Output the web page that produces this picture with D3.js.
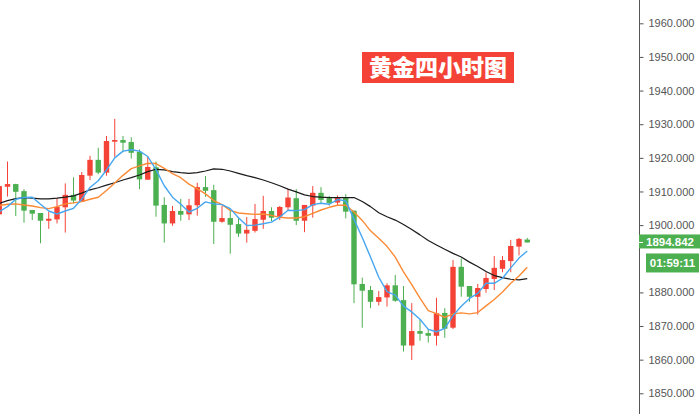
<!DOCTYPE html>
<html><head><meta charset="utf-8">
<script src="https://cdn.jsdelivr.net/npm/d3@7/dist/d3.min.js"></script>
<style>html,body{margin:0;padding:0;background:#fff;}svg{display:block;}</style>
</head><body>
<script>
// ---- data ----
const opens  = [1903.2,1911.4,1912.2,1910.1,1904.5,1903.6,1901.3,1901.7,1905.3,1909.0,1907.0,1914.7,1919.4,1915.6,1924.8,1925.3,1924.7,1921.8,1913.5,1917.2,1906.0,1900.5,1904.2,1903.2,1905.9,1911.3,1910.4,1901.0,1902.1,1900.3,1897.5,1898.3,1901.6,1904.2,1902.5,1905.3,1908.0,1901.3,1905.8,1909.6,1908.0,1906.7,1908.2,1904.3,1882.5,1880.7,1877.2,1878.5,1882.1,1877.7,1864.2,1868.5,1867.9,1867.1,1873.9,1869.5,1887.6,1881.9,1878.7,1881.0,1884.0,1887.0,1889.3,1893.6,1895.7];
const highs  = [1912.5,1918.9,1912.3,1910.7,1904.5,1903.6,1904.0,1908.0,1912.4,1914.2,1915.8,1920.6,1923.0,1926.5,1931.6,1926.5,1926.1,1922.5,1920.3,1918.9,1908.3,1905.7,1907.8,1907.8,1912.6,1914.6,1912.0,1905.7,1904.2,1902.0,1902.4,1906.3,1908.7,1905.3,1905.7,1910.7,1910.7,1906.0,1911.6,1911.3,1908.7,1908.8,1909.2,1904.3,1884.4,1881.9,1880.4,1882.7,1885.2,1881.9,1876.8,1872.0,1869.2,1878.4,1875.3,1889.6,1890.1,1881.9,1882.5,1885.9,1890.8,1890.8,1895.6,1896.2,1896.2];
const lows   = [1902.5,1908.5,1902.7,1900.7,1901.5,1894.6,1898.9,1900.5,1897.8,1906.5,1907.0,1913.4,1915.1,1914.7,1920.3,1921.7,1919.8,1910.7,1913.5,1902.5,1894.8,1899.8,1901.3,1901.5,1902.8,1908.4,1894.4,1900.7,1891.5,1896.5,1894.8,1897.8,1898.9,1901.2,1901.5,1904.5,1900.0,1897.9,1902.2,1906.5,1905.8,1906.0,1902.0,1876.8,1869.5,1875.3,1876.1,1875.8,1877.2,1862.4,1859.9,1865.6,1865.1,1864.2,1866.5,1869.1,1878.7,1877.2,1873.4,1879.9,1880.7,1886.0,1886.0,1891.0,1894.842];
const closes = [1911.6,1912.2,1909.9,1904.3,1903.4,1901.3,1901.9,1905.4,1909.0,1907.3,1914.9,1919.4,1915.6,1925.0,1925.3,1924.5,1921.5,1913.6,1917.3,1905.8,1900.5,1904.2,1903.1,1905.9,1911.3,1910.2,1901.0,1902.1,1900.1,1897.5,1898.6,1901.8,1904.2,1902.2,1905.4,1908.2,1901.3,1906.0,1909.6,1907.5,1906.6,1908.2,1904.0,1882.4,1880.5,1877.2,1878.6,1882.1,1877.5,1864.2,1868.5,1867.7,1867.1,1873.8,1869.2,1887.6,1881.7,1878.7,1881.3,1884.3,1887.3,1889.6,1893.8,1895.9,1894.842];
// moving-average lines
const maBlue   = [1904.0,1905.5,1907.7,1908.2,1908.3,1906.2,1904.2,1903.3,1904.2,1905.0,1907.7,1911.2,1913.2,1916.4,1920.0,1922.0,1922.4,1922.0,1920.4,1916.5,1911.7,1908.3,1906.2,1903.9,1905.0,1906.9,1906.3,1906.1,1904.9,1902.2,1899.9,1900.0,1900.4,1900.9,1902.4,1904.4,1904.3,1904.6,1906.1,1906.5,1906.2,1907.6,1907.2,1901.7,1896.3,1890.5,1884.5,1880.2,1879.2,1875.9,1874.2,1872.0,1869.0,1868.3,1869.3,1873.1,1875.9,1878.2,1879.7,1882.7,1882.7,1884.2,1887.3,1890.2,1892.3];
const maOrange = [1905.8,1906.2,1906.3,1906.0,1905.7,1905.2,1904.9,1905.5,1906.3,1906.6,1907.0,1907.7,1908.3,1910.3,1912.5,1914.8,1916.8,1917.6,1918.4,1918.3,1916.9,1915.3,1914.1,1912.2,1910.8,1909.3,1907.3,1906.1,1904.4,1903.6,1903.4,1903.2,1903.3,1902.9,1902.3,1902.1,1902.1,1902.5,1903.5,1904.5,1905.3,1905.9,1905.9,1903.9,1901.4,1898.3,1896.1,1893.7,1890.5,1886.1,1882.3,1878.3,1874.6,1873.7,1872.6,1873.6,1873.9,1873.6,1874.0,1876.0,1877.9,1880.1,1882.7,1884.9,1887.5];
const maBlack  = [1906.5,1907.3,1907.9,1908.2,1908.0,1907.8,1907.8,1908.0,1908.3,1908.7,1909.5,1910.5,1911.1,1911.9,1912.6,1913.4,1914.1,1914.9,1915.9,1916.6,1916.4,1915.9,1915.6,1915.4,1915.6,1916.1,1916.7,1916.6,1916.1,1915.4,1914.7,1914.1,1913.4,1912.6,1911.7,1910.7,1909.9,1909.0,1908.5,1908.3,1908.2,1908.2,1908.2,1908.2,1907.0,1905.5,1903.7,1902.5,1901.5,1900.2,1898.7,1897.1,1895.4,1894.1,1892.8,1891.6,1890.5,1889.0,1887.7,1886.2,1885.0,1884.4,1883.9,1883.7,1884.1];
// 1890 is hidden behind the price / countdown labels in the reference
const tickValues = [1850,1860,1870,1880,1900,1910,1920,1930,1940,1950,1960];
const title = "黄金四小时图";
const lastPrice = "1894.842";
const countdown = "01:59:11";

// ---- drawing ----
const W = 700, H = 414, axisX = 639;
const RED = "#f44336", GREEN = "#4caf50";
const svg = d3.select("body").append("svg").attr("width", W).attr("height", H);

const x = d3.scaleLinear().domain([0, closes.length - 1]).range([-0.75, 527.25]);
const y = d3.scaleLinear().domain([1850, 1960]).range([393.3, 23.3]);

svg.append("defs").append("clipPath").attr("id", "plot")
  .append("rect").attr("x", 0).attr("y", 0).attr("width", axisX).attr("height", H);

const plot = svg.append("g").attr("clip-path", "url(#plot)");
const candles = closes.map((c, i) => ({i, o: opens[i], h: highs[i], l: lows[i], c}));
const g = plot.selectAll("g.candle").data(candles).join("g").attr("class", "candle");
const col = d => d.c >= d.o ? RED : GREEN;
g.append("line")
  .attr("x1", d => x(d.i)).attr("x2", d => x(d.i))
  .attr("y1", d => y(d.h)).attr("y2", d => y(d.l))
  .attr("stroke", col).attr("stroke-width", 1);
const bw = 5.4;
g.append("rect")
  .attr("x", d => x(d.i) - bw / 2).attr("width", bw)
  .attr("y", d => y(Math.max(d.o, d.c)))
  .attr("height", d => Math.max(1.2, Math.abs(y(d.o) - y(d.c))))
  .attr("fill", col);

const line = d3.line().x((d, i) => x(i)).y(d => y(d));
[[maBlack, "#1a1a1a", 1.2], [maOrange, "#fb8a35", 1.4], [maBlue, "#45a6f2", 1.4]].forEach(([arr, c, w]) => {
  plot.append("path").datum(arr).attr("d", line).attr("fill", "none")
    .attr("stroke", c).attr("stroke-width", w).attr("stroke-linejoin", "round");
});

// right price axis
const axis = d3.axisRight(y).tickValues(tickValues).tickSize(4).tickPadding(5)
  .tickFormat(d3.format(".3f"));
const ag = svg.append("g").attr("transform", `translate(${axisX + 0.5},0)`).call(axis);
ag.select(".domain").remove();
ag.append("line").attr("x1", 0).attr("x2", 0).attr("y1", 0).attr("y2", H).attr("stroke", "#555");
ag.selectAll(".tick line").attr("stroke", "#555");
ag.selectAll(".tick text").attr("fill", "#555")
  .style("font-family", "'Liberation Sans', Arial, sans-serif").style("font-size", "11px");

// last price + countdown labels
const py = y(+lastPrice);
svg.append("rect").attr("x", axisX).attr("y", py - 8).attr("width", W - axisX).attr("height", 14).attr("fill", GREEN);
svg.append("line").attr("x1", axisX).attr("x2", axisX + 4).attr("y1", py).attr("y2", py).attr("stroke", "#fff");
svg.append("text").attr("x", 670).attr("y", py + 4).attr("text-anchor", "middle")
  .attr("fill", "#fff").style("font-family", "'Liberation Sans', Arial, sans-serif")
  .style("font-size", "11.5px").style("font-weight", "bold").text(lastPrice);
svg.append("rect").attr("x", 646).attr("y", py + 11).attr("width", 53).attr("height", 19).attr("fill", GREEN);
svg.append("text").attr("x", 672.5).attr("y", py + 24.5).attr("text-anchor", "middle")
  .attr("fill", "#fff").style("font-family", "'Liberation Sans', Arial, sans-serif")
  .style("font-size", "11.5px").style("font-weight", "bold").text(countdown);

// title badge
svg.append("rect").attr("x", 362).attr("y", 52).attr("width", 152).attr("height", 31).attr("fill", "#f44336");
svg.append("text").attr("x", 438).attr("y", 76).attr("text-anchor", "middle")
  .attr("fill", "#fff").style("font-family", "'Noto Sans CJK SC', sans-serif")
  .style("font-size", "23px").style("font-weight", "900").text(title);
</script>
</body></html>
